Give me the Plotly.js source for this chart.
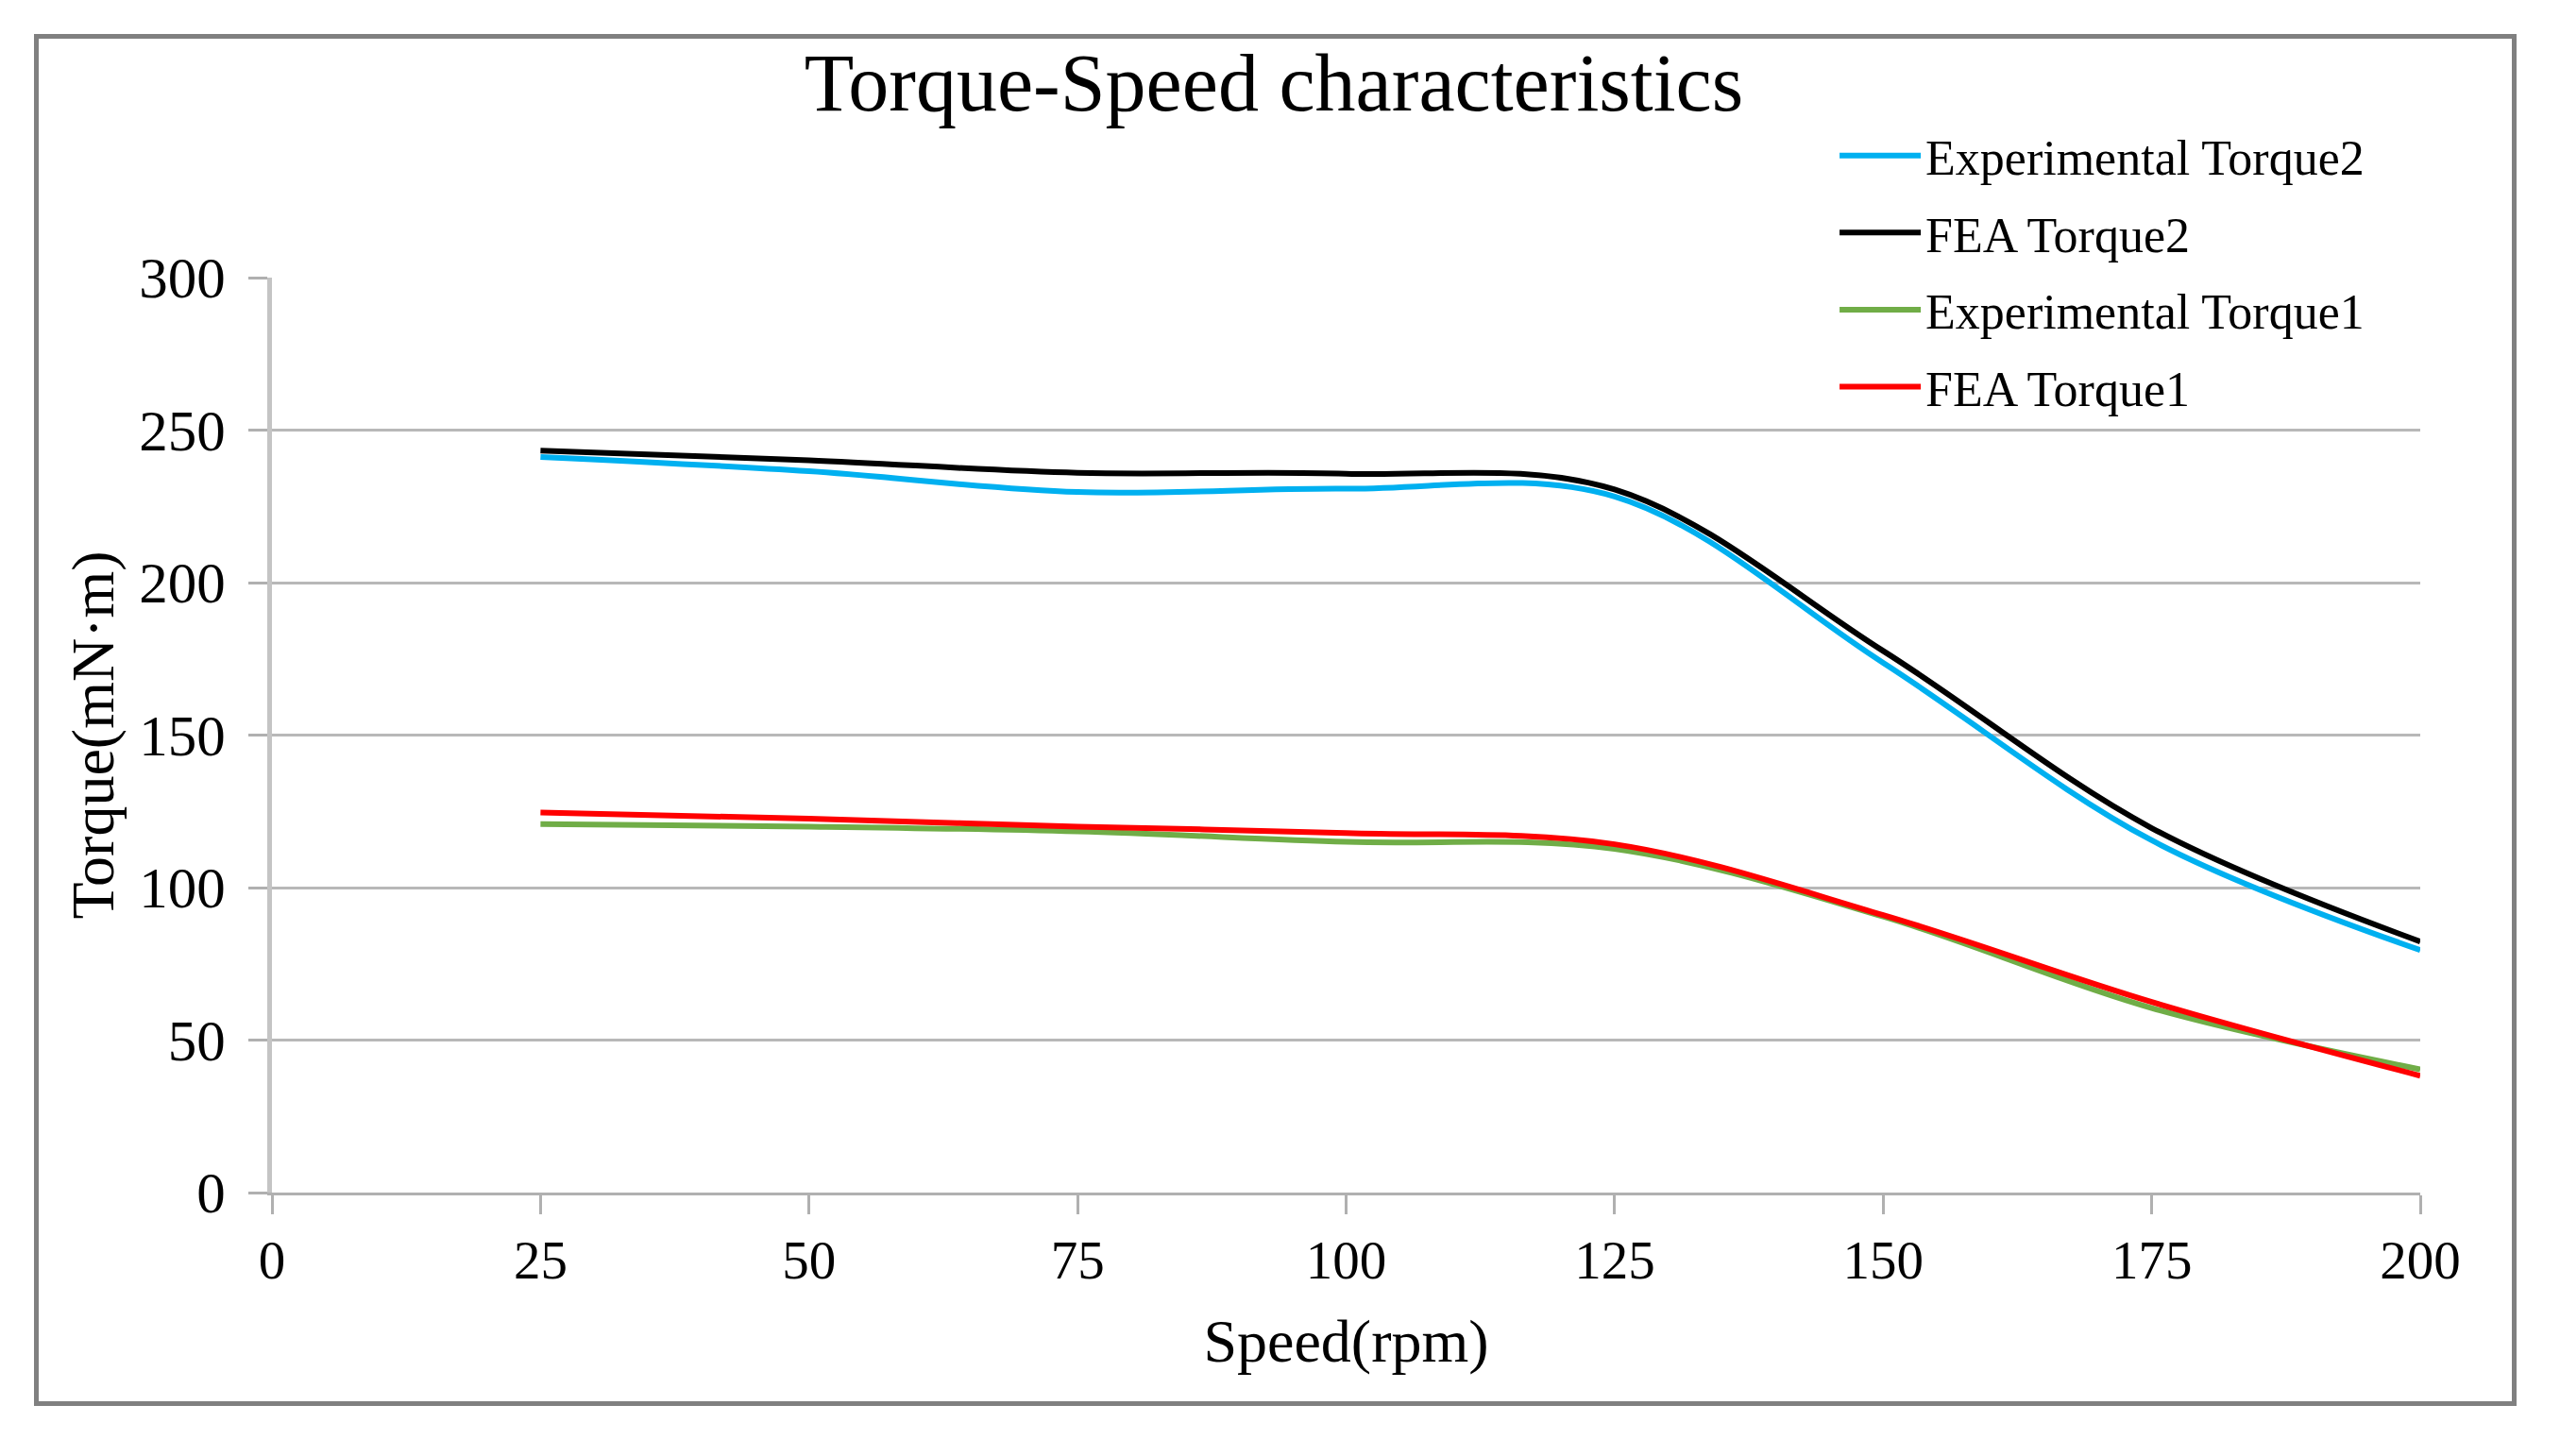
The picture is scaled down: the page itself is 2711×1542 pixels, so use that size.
<!DOCTYPE html>
<html>
<head>
<meta charset="utf-8">
<script src="https://cdn.plot.ly/plotly-3.0.1.min.js"></script>
<style>
  html, body { margin: 0; padding: 0; background: #ffffff; }
  #chart { width: 2711px; height: 1542px; }
  #frame { position: absolute; left: 36px; top: 36px; width: 2619px; height: 1443px;
           border: 5px solid #808080; pointer-events: none; }
</style>
</head>
<body>
<div id="chart"></div>
<div id="frame"></div>
<script>
// Speed (rpm)
const speed = [25, 50, 75, 100, 125, 150, 175, 200];
// Torque (mN·m)
const expTorque2 = [241.2, 236.5, 229.7, 230.8, 228.2, 173.7, 115.5, 79.5];
const feaTorque2 = [243.3, 240.1, 236.0, 235.7, 230.5, 177.6, 119.5, 82.3];
const expTorque1 = [120.8, 120.0, 118.4, 115.0, 112.7, 90.5, 60.5, 40.4];
const feaTorque1 = [124.6, 122.6, 120.0, 117.9, 114.2, 91.0, 62.5, 38.3];

const seriesNames = ["Experimental Torque2", "FEA Torque2", "Experimental Torque1", "FEA Torque1"];
const seriesValues = [expTorque2, feaTorque2, expTorque1, feaTorque1];
const seriesColors = ["#00B0F0", "#000000", "#70AD47", "#FF0000"];

const xTicks = [0, 25, 50, 75, 100, 125, 150, 175, 200];
const yTicks = [0, 50, 100, 150, 200, 250, 300];

const serif = "Liberation Serif, Times New Roman, serif";

const traces = seriesNames.map((name, i) => ({
  type: "scatter",
  mode: "lines",
  name: name,
  x: speed,
  y: seriesValues[i],
  legendgroup: "g" + i,
  line: { color: seriesColors[i], width: 6, shape: "spline", smoothing: 1 }
}));

const layout = {
  width: 2711,
  height: 1542,
  paper_bgcolor: "#ffffff",
  plot_bgcolor: "#ffffff",
  margin: { l: 288, r: 148, t: 294, b: 279, pad: 0 },
  title: {
    text: "Torque-Speed characteristics",
    font: { family: serif, size: 86, color: "#000000" },
    x: 0.4976, xref: "container", xanchor: "center",
    y: 0.9436, yref: "container", yanchor: "middle"
  },
  showlegend: true,
  legend: {
    x: 0.7275, xanchor: "left",
    y: 1.175, yanchor: "top",
    font: { family: serif, size: 52, color: "#000000" },
    bgcolor: "rgba(0,0,0,0)",
    traceorder: "grouped",
    tracegroupgap: 11,
    itemwidth: 86
  },
  xaxis: {
    range: [0, 200],
    tickvals: xTicks,
    ticktext: xTicks.map(String),
    showgrid: false,
    zeroline: false,
    showline: true,
    linecolor: "#b0b0b0",
    linewidth: 3,
    ticks: "outside",
    ticklen: 20,
    tickwidth: 3,
    tickcolor: "#b0b0b0",
    ticklabelstandoff: 0,
    tickfont: { family: serif, size: 57, color: "#000000" },
    title: { text: "Speed(rpm)", font: { family: serif, size: 64, color: "#000000" }, standoff: 32 },
    fixedrange: true
  },
  yaxis: {
    range: [0, 300],
    tickvals: yTicks,
    ticktext: yTicks.map(String),
    showgrid: true,
    gridcolor: "#b8b8b8",
    gridwidth: 3,
    zeroline: false,
    showline: true,
    linecolor: "#c4c4c4",
    linewidth: 5,
    ticks: "outside",
    ticklen: 20,
    tickwidth: 3,
    tickcolor: "#b0b0b0",
    ticklabelstandoff: 12,
    tickfont: { family: serif, size: 61, color: "#000000" },
    title: { text: "Torque(mN·m)", font: { family: serif, size: 64, color: "#000000" }, standoff: 7 },
    fixedrange: true
  }
};

Plotly.newPlot("chart", traces, layout, { displayModeBar: false, staticPlot: true });
</script>
</body>
</html>
